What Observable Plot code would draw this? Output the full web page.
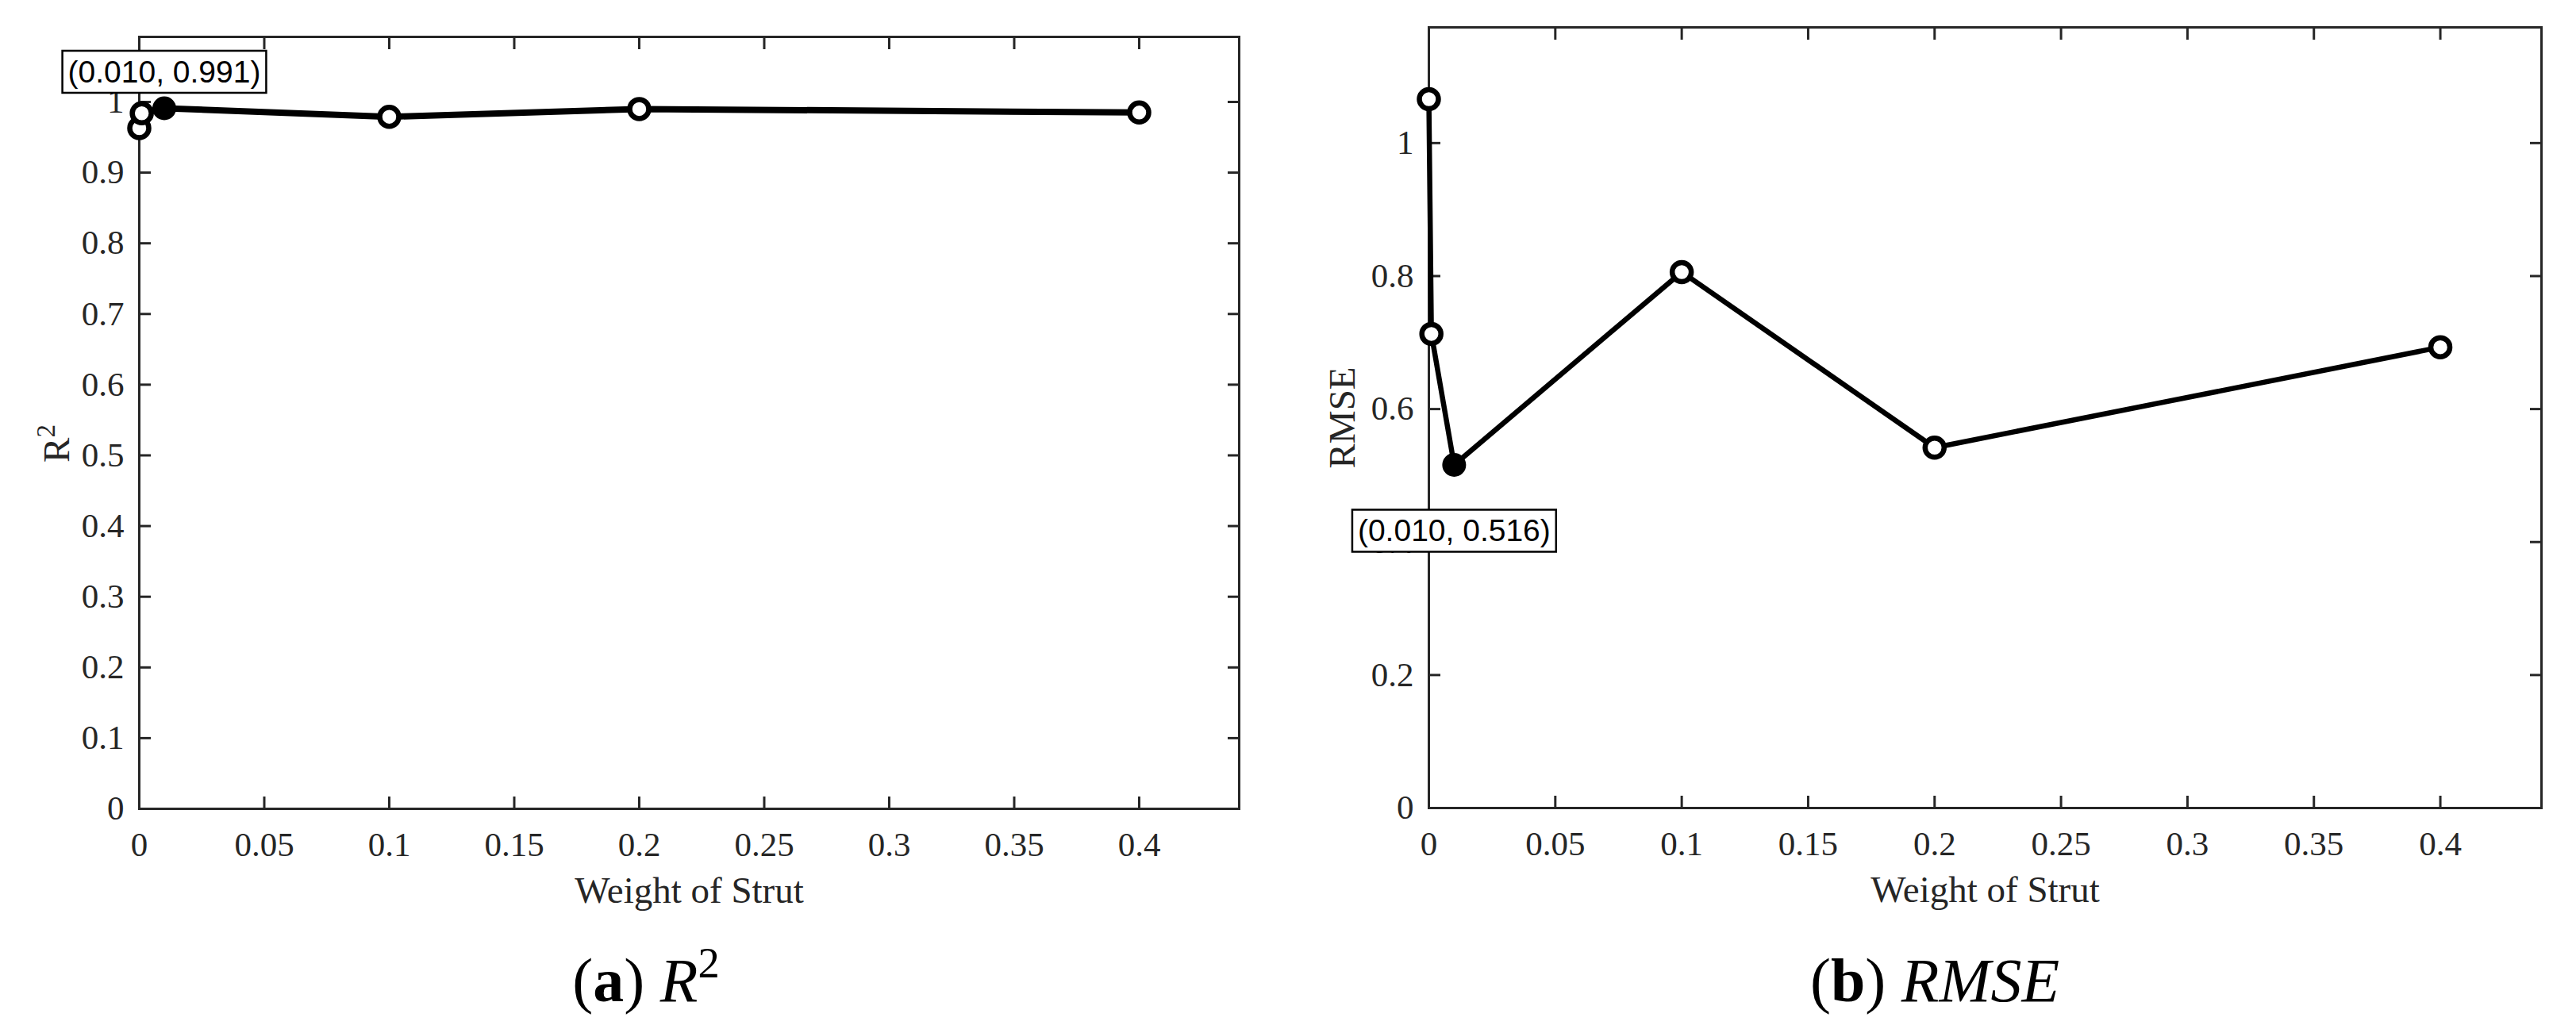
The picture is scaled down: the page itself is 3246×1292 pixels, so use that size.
<!DOCTYPE html>
<html><head><meta charset="utf-8">
<script src="https://cdn.jsdelivr.net/npm/d3@7"></script>
<script src="https://cdn.jsdelivr.net/npm/@observablehq/plot@0.6"></script>
<style>
html,body{margin:0;padding:0;background:#fff;}
#wrap{position:relative;width:3246px;height:1292px;overflow:hidden;background:#fff;}
.panel{position:absolute;top:0;}
.cap{position:absolute;width:1000px;text-align:center;font-family:"Liberation Serif",serif;font-size:78px;line-height:78px;color:#000;white-space:nowrap;}
.cap sup{font-size:0.7em;line-height:0;vertical-align:0.55em;}
</style></head><body>
<div id="wrap">
  <div id="left" class="panel" style="left:0"></div>
  <div id="right" class="panel" style="left:1623px"></div>
  <div class="cap" style="left:314px;top:1197px">(<b>a</b>) <i>R</i><sup>2</sup></div>
  <div class="cap" style="left:1938px;top:1197px">(<b>b</b>) <i>RMSE</i></div>
</div>
<script>
const weights = [0, 0.001, 0.01, 0.1, 0.2, 0.4];
const r2Values = [0.963, 0.984, 0.991, 0.979, 0.990, 0.985];
const rmseValues = [1.066, 0.713, 0.516, 0.806, 0.542, 0.693];
const xTicks = [0, 0.05, 0.1, 0.15, 0.2, 0.25, 0.3, 0.35, 0.4];
const r2Ticks = [0, 0.1, 0.2, 0.3, 0.4, 0.5, 0.6, 0.7, 0.8, 0.9, 1];
const rmseTicks = [0, 0.2, 0.4, 0.6, 0.8, 1];
const xLabel = "Weight of Strut";
const r2Label = "R2";
const rmseLabel = "RMSE";

const AX = "#262626";

function makePanel(cfg) {
  const data = weights.map((w, i) => ({w, v: cfg.values[i], i}));
  const best = data[cfg.bestIndex];
  const others = data.filter(d => d.i !== cfg.bestIndex);
  const plot = Plot.plot({
    width: 1623,
    height: 1160,
    marginLeft: cfg.ml, marginRight: cfg.mr, marginTop: cfg.mt, marginBottom: 1160 - cfg.bottom,
    style: {fontFamily: "'Liberation Serif', 'Times New Roman', serif", fontSize: "43px", color: AX, background: "white", overflow: "visible"},
    x: {domain: [0, 0.44]},
    y: {domain: cfg.yDomain},
    marks: [
      Plot.frame({stroke: AX, strokeWidth: 3}),
      Plot.axisX({anchor: "bottom", ticks: xTicks, tickSize: -15, tickPadding: 43.5, tickFormat: d => String(d), strokeWidth: 3, stroke: AX, fill: AX, label: null}),
      Plot.axisX({anchor: "top", ticks: xTicks, tickSize: -15, tickFormat: () => "", strokeWidth: 3, stroke: AX, label: null}),
      Plot.axisY({anchor: "left", ticks: cfg.yTicks, tickSize: -15, tickPadding: 34, tickFormat: d => String(d), strokeWidth: 3, stroke: AX, fill: AX, label: null}),
      Plot.axisY({anchor: "right", ticks: cfg.yTicks, tickSize: -15, tickFormat: () => "", strokeWidth: 3, stroke: AX, label: null}),
      Plot.text([xLabel], {frameAnchor: "bottom", text: d => d, dy: 103, lineAnchor: "middle", textAnchor: "middle", fontSize: 47, fill: AX}),
      Plot.text([cfg.yLabel], {frameAnchor: "left", text: d => d, rotate: -90, dx: cfg.yLabelDx, dy: cfg.yLabelDy, textAnchor: "middle", lineAnchor: "middle", fontSize: 47, fill: AX}),
      Plot.line(data, {x: "w", y: "v", stroke: "black", strokeWidth: cfg.lw, strokeLinejoin: "round"}),
      Plot.dot(others, {x: "w", y: "v", r: 12, fill: "white", stroke: "black", strokeWidth: 6.5}),
      Plot.dot([best], {x: "w", y: "v", r: 15, fill: "black", stroke: "none"}),
      Plot.text([best], {x: "w", y: "v", text: d => `(${d.w.toFixed(3)}, ${d.v.toFixed(3)})`, dy: cfg.tipDy, fontFamily: "'Liberation Sans', Arial, sans-serif", fontSize: 39, fill: "black", textAnchor: "middle", lineAnchor: "middle"})
    ]
  });
  document.getElementById(cfg.el).appendChild(plot);
  // datatip boxes
  Array.from(plot.querySelectorAll("text")).filter(t => /^\(\d/.test(t.textContent)).forEach(t => {
    const b = t.getBBox();
    const r = document.createElementNS("http://www.w3.org/2000/svg", "rect");
    r.setAttribute("x", b.x - 7);
    r.setAttribute("y", b.y - 5);
    r.setAttribute("width", b.width + 14);
    r.setAttribute("height", b.height + 10);
    r.setAttribute("fill", "white");
    r.setAttribute("stroke", "black");
    r.setAttribute("stroke-width", 2.5);
    if (t.getAttribute("transform")) r.setAttribute("transform", t.getAttribute("transform"));
    t.parentNode.insertBefore(r, t);
  });
  // superscript for R2 axis label
  Array.from(plot.querySelectorAll("text")).filter(t => t.textContent === "R2").forEach(t => {
    t.textContent = "";
    const a = document.createElementNS("http://www.w3.org/2000/svg", "tspan");
    a.textContent = "R";
    const s = document.createElementNS("http://www.w3.org/2000/svg", "tspan");
    s.textContent = "2";
    s.setAttribute("font-size", "33");
    s.setAttribute("dy", "-18");
    t.appendChild(a); t.appendChild(s);
  });
}

makePanel({el: "left", values: r2Values, bestIndex: d3.maxIndex(r2Values), yTicks: r2Ticks, yDomain: [0, 1.092], yLabel: r2Label,
  ml: 175, mr: 62, mt: 46, bottom: 1019, lw: 8, tipDy: -45, yLabelDx: -104, yLabelDy: 26});
makePanel({el: "right", values: rmseValues, bestIndex: d3.minIndex(rmseValues), yTicks: rmseTicks, yDomain: [0, 1.174], yLabel: rmseLabel,
  ml: 177, mr: 44, mt: 34, bottom: 1018, lw: 6.5, tipDy: 84, yLabelDx: -109, yLabelDy: 0});
</script>
</body></html>
